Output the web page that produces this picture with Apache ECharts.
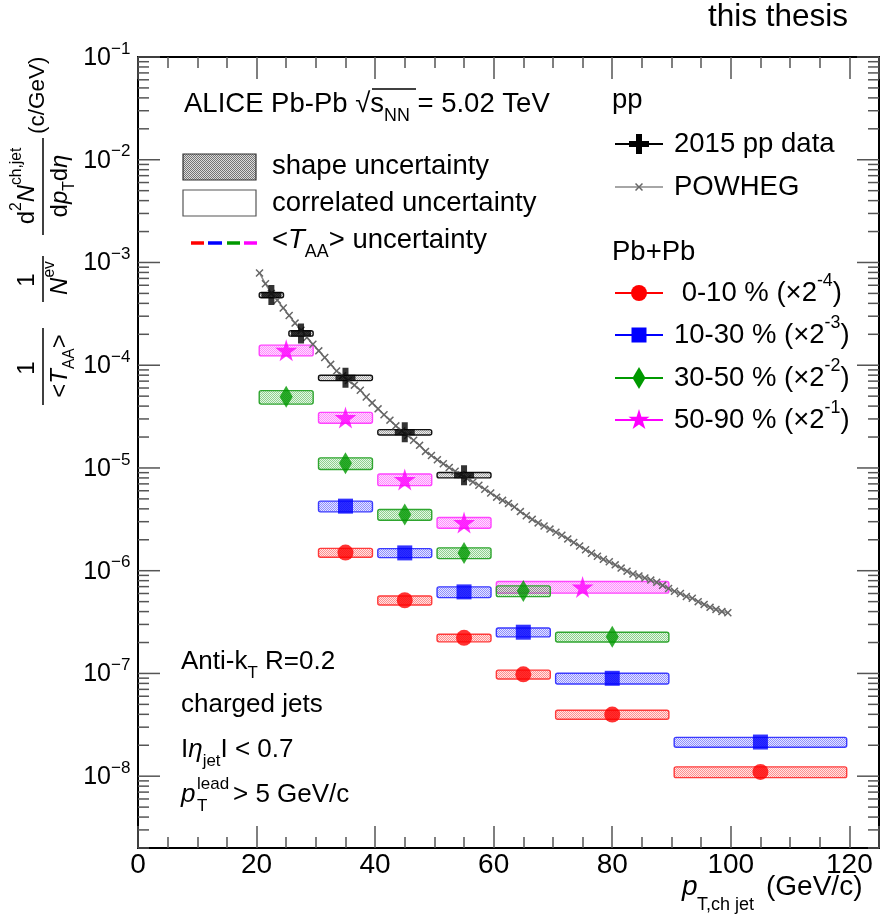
<!DOCTYPE html>
<html><head><meta charset="utf-8">
<script src="https://cdn.jsdelivr.net/npm/echarts/dist/echarts.min.js"></script>
<style>html,body{margin:0;padding:0;background:#fff}#c{width:882px;height:917px}</style>
</head><body><div id="c"></div>
<script>
// ---------------- data ----------------
const ppLo  = [20, 25, 30, 40, 50];
const ppHi  = [25, 30, 40, 50, 60];
const ppX   = [22.5, 27.5, 35, 45, 55];
const ppY   = [4.82e-4, 2.04e-4, 7.54e-5, 2.23e-5, 8.51e-6];
const ppErr = [0.06, 0.06, 0.06, 0.06, 0.06];

const c0010Lo  = [30, 40, 50, 60, 70, 90];
const c0010Hi  = [40, 50, 60, 70, 90, 120];
const c0010X   = [35, 45, 55, 65, 80, 105];
const c0010Y   = [1.50e-6, 5.16e-7, 2.22e-7, 9.8e-8, 3.98e-8, 1.10e-8];
const c0010Err = [0.10, 0.10, 0.085, 0.10, 0.10, 0.12];

const c1030Lo  = [30, 40, 50, 60, 70, 90];
const c1030Hi  = [40, 50, 60, 70, 90, 120];
const c1030X   = [35, 45, 55, 65, 80, 105];
const c1030Y   = [4.25e-6, 1.49e-6, 6.22e-7, 2.52e-7, 8.97e-8, 2.15e-8];
const c1030Err = [0.12, 0.10, 0.12, 0.10, 0.12, 0.11];

const c3050Lo  = [20, 30, 40, 50, 60, 70];
const c3050Hi  = [30, 40, 50, 60, 70, 90];
const c3050X   = [25, 35, 45, 55, 65, 80];
const c3050Y   = [4.92e-5, 1.11e-5, 3.52e-6, 1.49e-6, 6.35e-7, 2.27e-7];
const c3050Err = [0.15, 0.13, 0.12, 0.12, 0.12, 0.11];

const c5090Lo  = [20, 30, 40, 50, 60];
const c5090Hi  = [30, 40, 50, 60, 90];
const c5090X   = [25, 35, 45, 55, 75];
const c5090Y   = [1.40e-4, 3.10e-5, 7.73e-6, 2.94e-6, 6.95e-7];
const c5090Err = [0.12, 0.12, 0.13, 0.12, 0.13];

const powhegX = [20.5,21.5,22.5,23.5,24.5,25.5,26.5,27.5,28.5,29.5,30.5,31.5,32.5,33.5,34.5,35.5,36.5,37.5,38.5,39.5,
  40.5,41.5,42.5,43.5,44.5,45.5,46.5,47.5,48.5,49.5,50.5,51.5,52.5,53.5,54.5,55.5,56.5,57.5,58.5,59.5,
  60.5,61.5,62.5,63.5,64.5,65.5,66.5,67.5,68.5,69.5,70.5,71.5,72.5,73.5,74.5,75.5,76.5,77.5,78.5,79.5,
  80.5,81.5,82.5,83.5,84.5,85.5,86.5,87.5,88.5,89.5,90.5,91.5,92.5,93.5,94.5,95.5,96.5,97.5,98.5,99.5];
const powhegY = [7.9e-4,6.2e-4,5.0e-4,4.3e-4,3.6e-4,3.05e-4,2.57e-4,2.19e-4,1.86e-4,1.6e-4,
  1.38e-4,1.19e-4,1.02e-4,8.8e-5,7.9e-5,7.1e-5,6.4e-5,5.7e-5,4.9e-5,4.3e-5,
  3.76e-5,3.3e-5,2.92e-5,2.57e-5,2.29e-5,2.07e-5,1.86e-5,1.66e-5,1.45e-5,1.32e-5,
  1.2e-5,1.1e-5,1.01e-5,9.3e-6,8.6e-6,7.9e-6,7.3e-6,6.8e-6,6.2e-6,5.7e-6,
  5.2e-6,4.84e-6,4.52e-6,4.17e-6,3.76e-6,3.43e-6,3.16e-6,2.92e-6,2.72e-6,2.54e-6,
  2.37e-6,2.21e-6,2.04e-6,1.88e-6,1.74e-6,1.6e-6,1.48e-6,1.38e-6,1.29e-6,1.22e-6,
  1.14e-6,1.06e-6,9.9e-7,9.3e-7,8.9e-7,8.5e-7,8.1e-7,7.7e-7,7.2e-7,6.7e-7,
  6.3e-7,6.0e-7,5.6e-7,5.4e-7,5.0e-7,4.7e-7,4.4e-7,4.2e-7,4.0e-7,3.9e-7];

const yMajorTicks = [1e-8, 1e-7, 1e-6, 1e-5, 1e-4, 1e-3, 1e-2, 1e-1];
const yMajorExp   = ['8', '7', '6', '5', '4', '3', '2', '1'];
const xRange = [0, 125];
const yRange = [2e-9, 0.1];

// ---------------- helpers ----------------
const FONT = "'Liberation Sans', Arial, Helvetica, sans-serif";
function hatch(rgb, a1, a2) {
  const c = document.createElement('canvas'); c.width = 2; c.height = 2;
  const g = c.getContext('2d');
  g.fillStyle = 'rgba(' + rgb + ',' + a2 + ')'; g.fillRect(0, 0, 2, 2);
  g.fillStyle = 'rgba(' + rgb + ',' + a1 + ')'; g.fillRect(0, 0, 1, 1); g.fillRect(1, 1, 1, 1);
  return { image: c, repeat: 'repeat' };
}
function rich(F) {
  const s = F * 0.65;
  return {
    n:   { fontSize: F, fontFamily: FONT, color: '#000', lineHeight: F * 1.5 },
    i:   { fontSize: F, fontFamily: FONT, color: '#000', lineHeight: F * 1.5, fontStyle: 'italic' },
    sub: { fontSize: s, fontFamily: FONT, color: '#000', lineHeight: s, verticalAlign: 'bottom' },
    sup: { fontSize: s, fontFamily: FONT, color: '#000', lineHeight: s, verticalAlign: 'top' }
  };
}
function boxData(lo, hi, y, e) { return lo.map((l, k) => [l, hi[k], y[k], e[k]]); }
function pts(x, y) { return x.map((v, k) => [v, y[k]]); }

const COLS = {
  red:  { c: '#ff0000', rgb: '255,0,0' },
  blue: { c: '#0000ff', rgb: '0,0,255' },
  grn:  { c: '#009900', rgb: '0,153,0' },
  mag:  { c: '#ff00ff', rgb: '255,0,255' }
};

function boxSeries(data, col, stroke, a1, a2) {
  const fill = hatch(col.rgb, a1, a2);
  return {
    type: 'custom', coordinateSystem: 'cartesian2d', z: 2, silent: true,
    data: data,
    renderItem: function (params, api) {
      const lo = api.value(0), hi = api.value(1), v = api.value(2), e = api.value(3);
      const p1 = api.coord([lo + 0.45, v * (1 + e)]);
      const p2 = api.coord([hi - 0.45, v * (1 - e)]);
      return { type: 'rect', shape: { x: p1[0], y: p1[1], width: p2[0] - p1[0], height: p2[1] - p1[1], r: 2 },
        style: { fill: fill, stroke: stroke, lineWidth: 1.4 } };
    }
  };
}

const SHAPES = {
  cross: { box: 20, pts: [[7,0],[13,0],[13,7],[20,7],[20,13],[13,13],[13,20],[7,20],[7,13],[0,13],[0,7],[7,7]] },
  star:  { box: 100, pts: [[50,0],[61,35],[98,35],[68,57],[79,91],[50,70],[21,91],[32,57],[2,35],[39,35]] },
  xmark: { box: 10, pts: [[0,1.3],[1.3,0],[5,3.7],[8.7,0],[10,1.3],[6.3,5],[10,8.7],[8.7,10],[5,6.3],[1.3,10],[0,8.7],[3.7,5]] }
};
function toPath(s) { return 'path://' + s.pts.map((p, k) => (k ? 'L' : 'M') + p[0] + ',' + p[1]).join('') + 'Z'; }
function toPoly(s, cx, cy, size) {
  return s.pts.map(p => [cx + (p[0] / s.box - 0.5) * size, cy + (p[1] / s.box - 0.5) * size]);
}

const yTicks = [];
yMajorTicks.forEach(v => yTicks.push([0, v, 22]));
for (let n = -9; n <= -2; n++) for (let k = 2; k <= 9; k++) {
  const v = k * Math.pow(10, n);
  if (v >= yRange[0] && v <= yRange[1]) yTicks.push([0, v, 11]);
}
const yLabels = yMajorTicks.map((v, k) => [0, v, yMajorExp[k]]);

const chart = echarts.init(document.getElementById('c'), null, { renderer: 'canvas' });

const option = {
  backgroundColor: '#fff',
  animation: false,
  grid: { left: 138, top: 57, width: 746, height: 791, containLabel: false },
  xAxis: [
    { type: 'value', min: xRange[0], max: xRange[1], interval: 20, position: 'bottom',
      axisLine: { show: true, onZero: false, lineStyle: { color: '#000', width: 2 } },
      axisTick: { show: true, inside: true, length: 22, lineStyle: { color: '#555', width: 1.5 } },
      minorTick: { show: true, splitNumber: 4, length: 11, lineStyle: { color: '#555', width: 1.5 } },
      axisLabel: { show: true, color: '#000', fontSize: 28, fontFamily: FONT, margin: 3,
        formatter: v => (v > 120 ? '' : String(v)) },
      splitLine: { show: false }, minorSplitLine: { show: false } },
    { type: 'value', min: xRange[0], max: xRange[1], interval: 20, position: 'top',
      axisLine: { show: true, onZero: false, lineStyle: { color: '#000', width: 2 } },
      axisTick: { show: true, inside: true, length: 22, lineStyle: { color: '#555', width: 1.5 } },
      minorTick: { show: true, splitNumber: 4, length: 11, lineStyle: { color: '#555', width: 1.5 } },
      axisLabel: { show: false }, splitLine: { show: false } }
  ],
  yAxis: [
    { type: 'log', logBase: 10, min: yRange[0], max: yRange[1], position: 'left',
      axisLine: { show: true, onZero: false, lineStyle: { color: '#000', width: 2 } },
      axisTick: { show: false }, axisLabel: { show: false }, splitLine: { show: false } },
    { type: 'log', logBase: 10, min: yRange[0], max: yRange[1], position: 'right',
      axisLine: { show: true, onZero: false, lineStyle: { color: '#000', width: 2 } },
      axisTick: { show: false }, axisLabel: { show: false }, splitLine: { show: false } }
  ],
  series: [
    { type: 'custom', coordinateSystem: 'cartesian2d', z: 1, silent: true, clip: false, data: yTicks,
      renderItem: function (params, api) {
        const cs = params.coordSys; const p = api.coord([0, api.value(1)]); const L = api.value(2);
        const st = { stroke: '#555', lineWidth: 1.5 };
        return { type: 'group', children: [
          { type: 'line', shape: { x1: cs.x, y1: p[1], x2: cs.x + L, y2: p[1] }, style: st },
          { type: 'line', shape: { x1: cs.x + cs.width, y1: p[1], x2: cs.x + cs.width - L, y2: p[1] }, style: st }
        ] };
      } },
    { type: 'custom', coordinateSystem: 'cartesian2d', z: 1, silent: true, clip: false, data: yLabels,
      renderItem: function (params, api) {
        const cs = params.coordSys; const p = api.coord([0, api.value(1)]);
        const ex = yLabels[params.dataIndex][2];
        return { type: 'group', children: [
          { type: 'text', x: cs.x - 27, y: p[1] + 1, style: { text: '10', fill: '#000', fontSize: 25, fontFamily: FONT,
              textAlign: 'right', textVerticalAlign: 'middle' } },
          { type: 'text', x: cs.x - 27, y: p[1] - 8, style: { text: '\u2212' + ex, fill: '#000', fontSize: 17, fontFamily: FONT,
              textAlign: 'left', textVerticalAlign: 'middle' } }
        ] };
      } },
    boxSeries(boxData(ppLo, ppHi, ppY, ppErr), { rgb: '110,110,110' }, '#111', 0.55, 0.12),
    boxSeries(boxData(c5090Lo, c5090Hi, c5090Y, c5090Err), COLS.mag, '#ff44ff', 0.38, 0.12),
    boxSeries(boxData(c3050Lo, c3050Hi, c3050Y, c3050Err), COLS.grn, '#2fa52f', 0.38, 0.1),
    boxSeries(boxData(c1030Lo, c1030Hi, c1030Y, c1030Err), COLS.blue, '#3a3aff', 0.38, 0.1),
    boxSeries(boxData(c0010Lo, c0010Hi, c0010Y, c0010Err), COLS.red, '#ff3a3a', 0.38, 0.1),
    { name: 'POWHEG', type: 'line', z: 3, data: pts(powhegX, powhegY), symbol: toPath(SHAPES.xmark), symbolSize: 8,
      showAllSymbol: true, lineStyle: { color: '#888', width: 1.5 }, itemStyle: { color: '#666' } },
    { name: '2015 pp data', type: 'scatter', z: 4, data: pts(ppX, ppY), symbol: toPath(SHAPES.cross), symbolSize: 20,
      itemStyle: { color: '#000' } },
    { name: '0-10 %', type: 'scatter', z: 4, data: pts(c0010X, c0010Y), symbol: 'circle', symbolSize: 16,
      itemStyle: { color: COLS.red.c } },
    { name: '10-30 %', type: 'scatter', z: 4, data: pts(c1030X, c1030Y), symbol: 'rect', symbolSize: 15,
      itemStyle: { color: COLS.blue.c } },
    { name: '30-50 %', type: 'scatter', z: 4, data: pts(c3050X, c3050Y), symbol: 'diamond', symbolSize: [13, 22],
      itemStyle: { color: COLS.grn.c } },
    { name: '50-90 %', type: 'scatter', z: 4, data: pts(c5090X, c5090Y), symbol: toPath(SHAPES.star), symbolSize: 22,
      itemStyle: { color: COLS.mag.c } }
  ],
  graphic: { elements: [] }
};

const G = option.graphic.elements;
function txt(x, y, text, F, extra) {
  G.push(Object.assign({ type: 'text', x: x, y: y, z: 10, silent: true,
    style: { text: text, rich: rich(F), fill: '#000', fontSize: F, fontFamily: FONT, textVerticalAlign: 'middle', textAlign: 'left' } }, extra || {}));
}
function line(x1, y1, x2, y2, color, w) {
  G.push({ type: 'line', z: 10, silent: true, shape: { x1, y1, x2, y2 }, style: { stroke: color, lineWidth: w } });
}

txt(708, 17, 'this thesis', 31.5);

txt(184, 104, '{n|ALICE Pb-Pb }{n|\u221A}{n|s}{sub|NN}{n| = 5.02 TeV}', 27.5);
line(372, 89, 416, 89, '#000', 1.3);

G.push({ type: 'rect', z: 10, silent: true, shape: { x: 183, y: 154, width: 73, height: 26 },
  style: { fill: hatch('80,80,80', 0.75, 0.2), stroke: '#333', lineWidth: 1.2 } });
G.push({ type: 'rect', z: 10, silent: true, shape: { x: 183, y: 190, width: 73, height: 26 },
  style: { fill: '#fff', stroke: '#555', lineWidth: 1.2 } });
line(191, 243, 204, 243, '#ff0000', 3.5);
line(208, 243, 222, 243, '#0000ff', 3.5);
line(227, 243, 240, 243, '#009900', 3.5);
line(244, 243, 257, 243, '#ff00ff', 3.5);
txt(272, 166, 'shape uncertainty', 27.5);
txt(272, 203, 'correlated uncertainty', 27.5);
txt(272, 240, '{n|<}{i|T}{sub|AA}{n|> uncertainty}', 27.5);

txt(612, 100, 'pp', 27.5);
txt(612, 252, 'Pb+Pb', 27.5);
const legRows = [
  { y: 144, col: '#000', text: '2015 pp data', sym: 'cross' },
  { y: 187, col: '#888', text: 'POWHEG', sym: 'x' },
  { y: 293, col: '#ff0000', text: '{n| 0-10 % (\u00D72}{sup|-4}{n|)}', sym: 'circle' },
  { y: 335, col: '#0000ff', text: '{n|10-30 % (\u00D72}{sup|-3}{n|)}', sym: 'rect' },
  { y: 378, col: '#009900', text: '{n|30-50 % (\u00D72}{sup|-2}{n|)}', sym: 'diamond' },
  { y: 420, col: '#ff00ff', text: '{n|50-90 % (\u00D72}{sup|-1}{n|)}', sym: 'star' }
];
legRows.forEach(r => {
  line(615, r.y, 663, r.y, r.col, r.sym === 'x' ? 1.5 : 2);
  const cx = 639, cy = r.y;
  let el;
  if (r.sym === 'cross') el = { type: 'polygon', shape: { points: toPoly(SHAPES.cross, cx, cy, 20) }, style: { fill: '#000' } };
  if (r.sym === 'x') el = { type: 'polygon', shape: { points: toPoly(SHAPES.xmark, cx, cy, 8) }, style: { fill: '#666' } };
  if (r.sym === 'circle') el = { type: 'circle', shape: { cx, cy, r: 8 }, style: { fill: r.col } };
  if (r.sym === 'rect') el = { type: 'rect', shape: { x: cx - 7.5, y: cy - 7.5, width: 15, height: 15 }, style: { fill: r.col } };
  if (r.sym === 'diamond') el = { type: 'polygon', shape: { points: [[cx, cy - 11], [cx + 6.5, cy], [cx, cy + 11], [cx - 6.5, cy]] }, style: { fill: r.col } };
  if (r.sym === 'star') el = { type: 'polygon', shape: { points: toPoly(SHAPES.star, cx, cy, 22) }, style: { fill: r.col } };
  el.z = 11; el.silent = true; G.push(el);
  txt(674, r.y, r.text, 27.5);
});

txt(181, 662, '{n|Anti-k}{sub|T}{n| R=0.2}', 26);
txt(181, 705, 'charged jets', 26);
txt(181, 750, '{n|I}{i|\u03B7}{sub|jet}{n|I < 0.7}', 26);
txt(181, 795, '{i|p}', 26);
txt(197, 784, 'lead', 17);
txt(197, 806, 'T', 17);
txt(233, 795, '> 5 GeV/c', 26);

txt(682, 887, '{i|p}', 28);
txt(697, 905, 'T,ch jet', 18);
txt(766, 887, '(GeV/c)', 28);

const yt = [];
function ytxt(x, y, text, F, align) {
  yt.push({ type: 'text', x, y, style: { text, rich: rich(F), fontSize: F, fontFamily: FONT, fill: '#000', textAlign: align || 'center', textVerticalAlign: 'middle' } });
}
function ybar(x1, x2) { yt.push({ type: 'line', shape: { x1, y1: 0, x2, y2: 0 }, style: { stroke: '#000', lineWidth: 1.5 } }); }
ybar(5, 82);  ytxt(42, -16, '1', 24); ytxt(44, 17, '{n|<}{i|T}{sub|AA}{n|>}', 24);
ybar(108, 154); ytxt(130, -16, '1', 24); ytxt(132, 17, '{i|N}{sup|ev}', 24);
ybar(175, 272); ytxt(224, -16, '{n|d}{sup|2}{i|N}{sup|ch,jet}', 24); ytxt(224, 17, '{n|d}{i|p}{sub|T}{n|d}{i|\u03B7}', 24);
ytxt(276, -5, '(c/GeV)', 22.5, 'left');
G.push({ type: 'group', x: 43, y: 410, rotation: Math.PI / 2, z: 10, silent: true, children: yt });

chart.setOption(option);
</script></body></html>
